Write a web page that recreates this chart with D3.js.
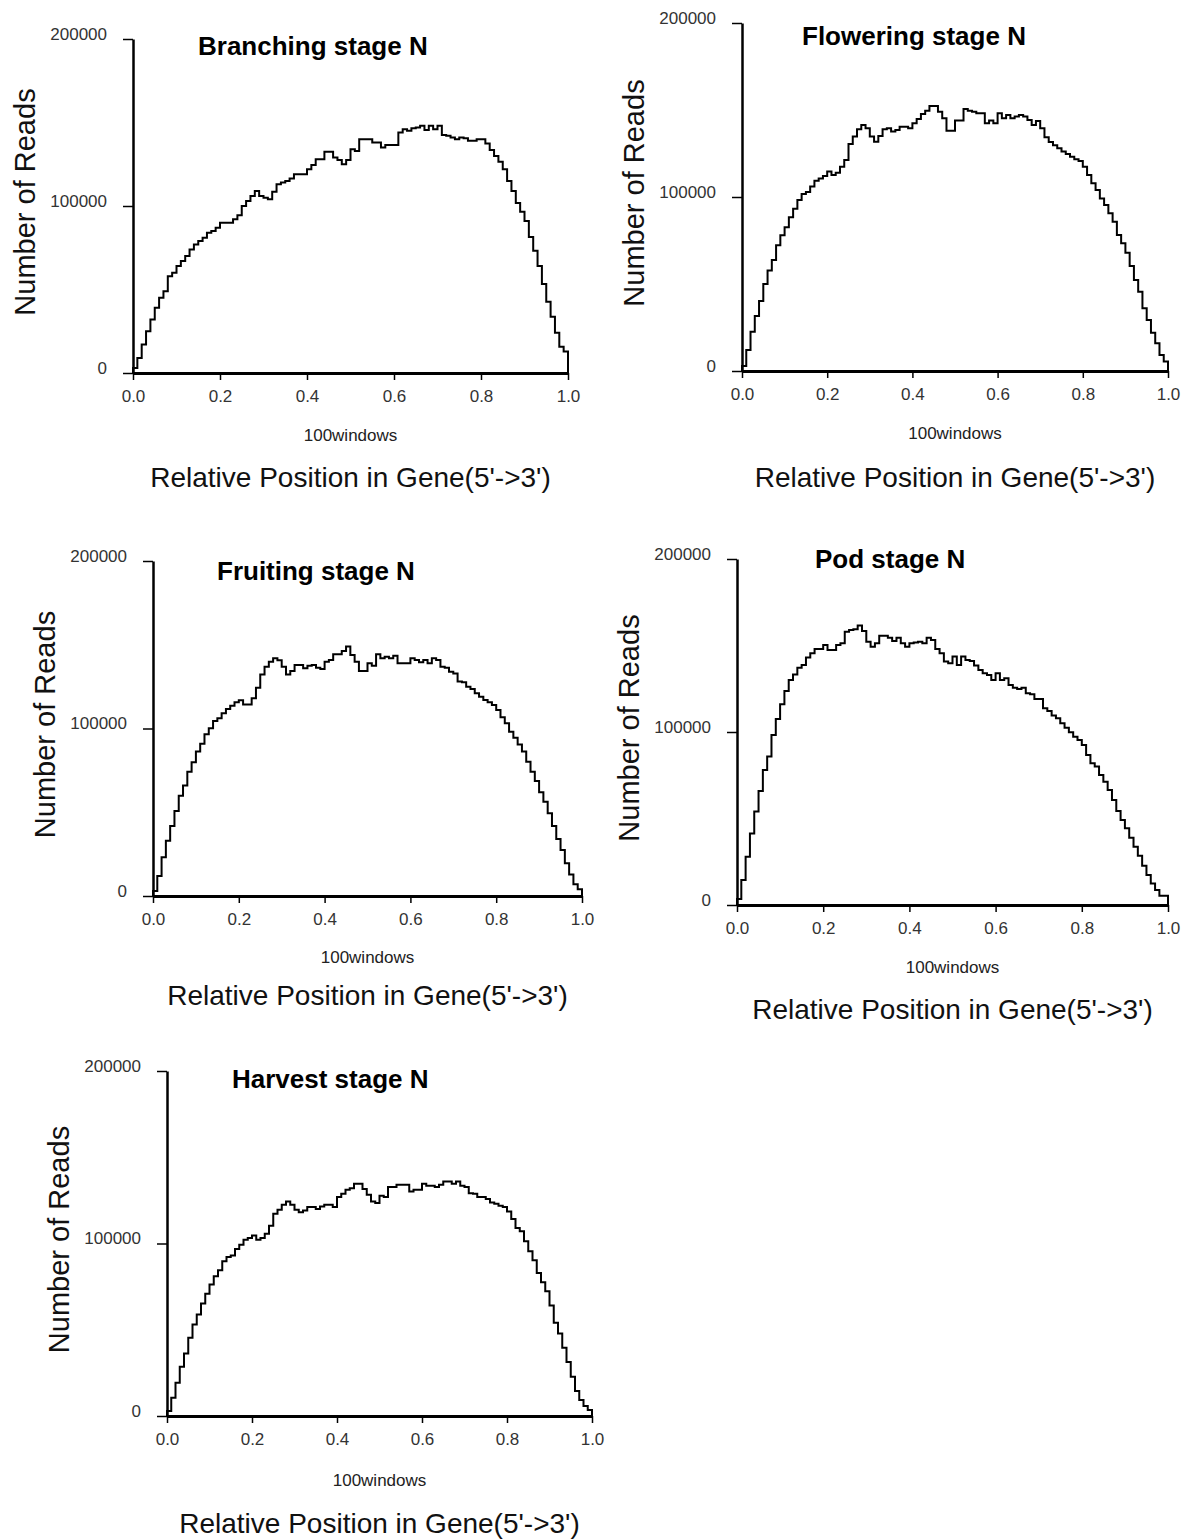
<!DOCTYPE html>
<html>
<head>
<meta charset="utf-8">
<script src="https://cdn.jsdelivr.net/npm/d3@7"></script>
<style>
  body { margin: 0; background: #fff; }
  text { font-family: "Liberation Sans", Arial, Helvetica, sans-serif; }
</style>
</head>
<body>
<div id="chart"></div>
<script>
// axis ticks and labels
var xTicks = [0, 0.2, 0.4, 0.6, 0.8, 1.0];
var xTickLabels = ["0.0", "0.2", "0.4", "0.6", "0.8", "1.0"];
var yTicks = [0, 100000, 200000];
var yTickLabels = ["0", "100000", "200000"];

var titles = ["Branching stage N", "Flowering stage N", "Fruiting stage N", "Pod stage N", "Harvest stage N"];
var xSubLabel = "100windows";
var xAxisTitle = "Relative Position in Gene(5'->3')";
var yAxisTitle = "Number of Reads";

// reads per window (100 windows along the gene body)
var branching = [
  3000, 9000, 17000, 25000, 32000, 39000, 45000, 49000, 58000, 60000,
  64000, 67000, 70000, 74000, 77000, 79000, 81000, 84000, 85000, 87000,
  90000, 90000, 90000, 92000, 94500, 100000, 103000, 106000, 109000, 106000,
  105000, 104000, 108500, 113000, 114000, 115000, 116500, 119000, 119000, 119000,
  122000, 124500, 128000, 128000, 132500, 132500, 129000, 127500, 125000, 127500,
  134000, 133000, 140000, 140000, 140000, 138000, 138000, 135000, 136500, 136500,
  136500, 144000, 146000, 145000, 146500, 147000, 148000, 145500, 148000, 146000,
  148000, 142500, 142000, 141000, 140000, 141000, 140500, 139000, 139000, 140000,
  140000, 137500, 133500, 130000, 126500, 122000, 115000, 109000, 101800, 96600,
  91000, 81400, 73200, 64000, 53300, 42700, 33700, 24100, 15700, 12800
];
var flowering = [
  2900, 12000, 22600, 31600, 40200, 50000, 57700, 63800, 72200, 78000,
  82600, 88300, 93300, 98300, 101700, 102900, 106000, 109400, 110600, 112100,
  114600, 112700, 114000, 117400, 121300, 130500, 134700, 138900, 141400, 139500,
  134700, 131800, 135000, 138900, 139500, 137600, 138500, 140400, 140400, 139500,
  142400, 144800, 147700, 149600, 152300, 152300, 149000, 145200, 138100, 138100,
  143900, 143900, 150600, 149600, 149000, 148100, 148100, 142400, 143900, 142400,
  148100, 145200, 147100, 145200, 146200, 147100, 146200, 144300, 141400, 143700,
  139500, 134300, 131600, 129700, 128000, 126100, 124700, 123200, 121700, 120700,
  117400, 112700, 107900, 104000, 99200, 95400, 90600, 85800, 78200, 73400,
  68000, 60400, 52300, 45600, 36000, 29300, 22000, 15900, 9200, 5400
];
var fruiting = [
  3000, 11900, 23100, 33000, 41800, 50700, 59900, 65900, 74200, 79800,
  86200, 90900, 96500, 100100, 104500, 106100, 109100, 111600, 113600, 115600,
  116800, 114400, 114400, 118000, 124400, 132300, 136900, 139900, 141900, 140700,
  136900, 132300, 134300, 137900, 137900, 135900, 137500, 137900, 136300, 135500,
  139900, 140900, 144300, 144300, 146300, 148900, 143900, 139900, 134300, 134300,
  138900, 137500, 144300, 141900, 142900, 141900, 143500, 138900, 138900, 138900,
  141900, 140900, 139500, 140900, 138900, 141900, 140900, 136900, 136300, 133900,
  132900, 128000, 127600, 125000, 123600, 121000, 119000, 117000, 115600, 114000,
  111000, 106700, 103100, 98100, 94500, 90500, 86200, 80200, 74200, 68600,
  61900, 56300, 49400, 41800, 34000, 27500, 19500, 12900, 7000, 4000
];
var pod = [
  3500, 14500, 27900, 41400, 54000, 65900, 78000, 85800, 98300, 107500,
  116000, 123700, 130100, 133300, 137200, 138700, 143000, 145500, 148000, 148000,
  150300, 147400, 147400, 150300, 151300, 158000, 159000, 159400, 161500, 158400,
  152200, 149300, 151300, 155700, 155700, 154500, 152600, 154500, 151300, 149300,
  151300, 151700, 152200, 151300, 154500, 153200, 148000, 145500, 140700, 139700,
  143600, 138700, 143600, 141600, 141100, 138400, 135900, 133900, 133000, 130100,
  133900, 130100, 131000, 127200, 125600, 124900, 125600, 122400, 121800, 119100,
  119100, 113700, 112200, 109500, 107900, 105000, 102500, 99800, 97300, 95400,
  92500, 86700, 81900, 80000, 75200, 71300, 66500, 60700, 54300, 49100,
  44300, 38900, 33700, 28500, 22700, 17300, 12500, 8700, 5400, 5400
];
var harvest = [
  2900, 10600, 19300, 28500, 36300, 45300, 53000, 58800, 65200, 70800,
  76200, 81000, 84500, 89700, 92200, 93000, 96800, 99300, 102200, 103200,
  104600, 102200, 103200, 105700, 110300, 117300, 119600, 122500, 124400, 122500,
  119600, 118100, 119200, 121100, 121100, 120000, 121500, 122500, 122500, 121100,
  126900, 128900, 131200, 132100, 134600, 134600, 131600, 128300, 124400, 123500,
  127700, 126900, 132700, 132700, 134100, 134100, 134100, 130200, 131200, 131200,
  134600, 133500, 133500, 132700, 134100, 136000, 136000, 134600, 136000, 133500,
  132700, 129200, 128900, 126900, 126900, 125800, 123800, 123100, 121900, 121100,
  118600, 114200, 109000, 107100, 101300, 95500, 90300, 82900, 77500, 72300,
  64000, 54000, 47800, 39500, 31300, 22800, 14500, 9300, 5800, 3500
];
var series = [branching, flowering, fruiting, pod, harvest];

// where each panel sits on the page
var layout = [
  { x0: 133, x1: 568, y0: 373, yTop: 39, titleX: 198, titleY: 55, subY: 441, axisTitleY: 487 },
  { x0: 742, x1: 1168, y0: 371, yTop: 23, titleX: 802, titleY: 45, subY: 439, axisTitleY: 487 },
  { x0: 153, x1: 582, y0: 896, yTop: 561, titleX: 217, titleY: 580, subY: 963, axisTitleY: 1005 },
  { x0: 737, x1: 1168, y0: 905, yTop: 559, titleX: 815, titleY: 568, subY: 973, axisTitleY: 1019 },
  { x0: 167, x1: 592, y0: 1416, yTop: 1071, titleX: 232, titleY: 1088, subY: 1486, axisTitleY: 1533 }
];

var svg = d3.select("#chart")
  .append("svg")
  .attr("width", 1190)
  .attr("height", 1540)
  .style("background", "#fff");

layout.forEach(function(p, k) {
  var values = series[k];

  var x = d3.scaleLinear().domain([0, 1]).range([p.x0, p.x1]);
  var y = d3.scaleLinear().domain([0, 200000]).range([p.y0, p.yTop]);

  var g = svg.append("g");

  // step outline: rise from axis, one step per window, drop back at the end
  var pts = [[0, 0]];
  values.forEach(function(v, i) { pts.push([i / values.length, v]); });
  pts.push([1, values[values.length - 1]]);
  pts.push([1, 0]);

  var line = d3.line()
    .x(d => x(d[0]))
    .y(d => y(d[1]))
    .curve(d3.curveStepAfter);

  g.append("path")
    .datum(pts)
    .attr("d", line)
    .attr("fill", "none")
    .attr("stroke", "#000")
    .attr("stroke-width", 2);

  // y axis
  var yAxis = g.append("g")
    .attr("transform", "translate(" + p.x0 + ",0)")
    .call(d3.axisLeft(y)
      .tickValues(yTicks)
      .tickFormat((d, i) => yTickLabels[i])
      .tickSize(10)
      .tickSizeOuter(0)
      .tickPadding(16));
  yAxis.select(".domain").attr("stroke", "#000").attr("stroke-width", 2.5);
  yAxis.selectAll(".tick line").attr("stroke", "#000").attr("stroke-width", 1.5);
  yAxis.selectAll(".tick text")
    .attr("dy", "0")
    .attr("fill", "#333")
    .style("font-size", "17px");

  // x axis
  var xAxis = g.append("g")
    .attr("transform", "translate(0," + p.y0 + ")")
    .call(d3.axisBottom(x)
      .tickValues(xTicks)
      .tickFormat((d, i) => xTickLabels[i])
      .tickSize(7)
      .tickSizeOuter(0)
      .tickPadding(10));
  xAxis.select(".domain").attr("stroke", "#000").attr("stroke-width", 3);
  xAxis.selectAll(".tick line").attr("stroke", "#000").attr("stroke-width", 1.5);
  xAxis.selectAll(".tick text")
    .attr("fill", "#333")
    .style("font-size", "17px");

  var cx = (p.x0 + p.x1) / 2;

  g.append("text")
    .attr("x", cx)
    .attr("y", p.subY)
    .attr("text-anchor", "middle")
    .style("font-size", "17px")
    .attr("fill", "#222")
    .text(xSubLabel);

  g.append("text")
    .attr("x", cx)
    .attr("y", p.axisTitleY)
    .attr("text-anchor", "middle")
    .style("font-size", "28px")
    .attr("fill", "#111")
    .text(xAxisTitle);

  g.append("text")
    .attr("transform", "translate(" + (p.x0 - 98) + "," + ((p.y0 + p.yTop) / 2 - 4) + ") rotate(-90)")
    .attr("text-anchor", "middle")
    .style("font-size", "29px")
    .attr("fill", "#111")
    .text(yAxisTitle);

  g.append("text")
    .attr("x", p.titleX)
    .attr("y", p.titleY)
    .style("font-size", "26px")
    .style("font-weight", "bold")
    .attr("fill", "#000")
    .text(titles[k]);
});
</script>
</body>
</html>
